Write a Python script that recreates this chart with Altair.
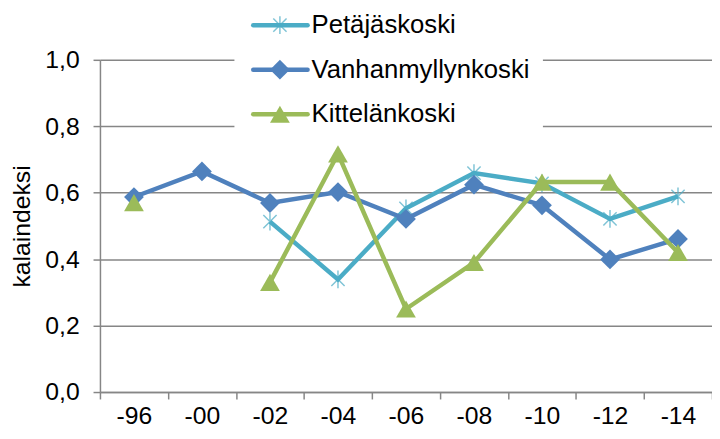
import altair as alt
import pandas as pd

years = ["-96", "-00", "-02", "-04", "-06", "-08", "-10", "-12", "-14"]
petajaskoski = [None, None, 0.513, 0.339, 0.553, 0.659, 0.628, 0.521, 0.589]
vanhanmyllynkoski = [0.587, 0.664, 0.569, 0.602, 0.521, 0.624, 0.562, 0.399, 0.461]
kittelankoski = [0.57, None, 0.33, 0.717, 0.25, 0.39, 0.632, 0.632, 0.42]

series_names = ["Petäjäskoski", "Vanhanmyllynkoski", "Kittelänkoski"]
series_values = [petajaskoski, vanhanmyllynkoski, kittelankoski]
colors = ["#4BACC6", "#4F81BD", "#9BBB59"]
y_ticks = [0.0, 0.2, 0.4, 0.6, 0.8, 1.0]

ASTER = "M0,-1L0,1M-0.75,-0.75L0.75,0.75M-0.75,0.75L0.75,-0.75"
FONT = "Liberation Sans"
GRAY = "#868686"


def series_df(name, vals):
    rows = []
    seg = 0
    for yr, v in zip(years, vals):
        if v is None:
            seg += 1
            continue
        rows.append({"year": yr, "value": v, "series": name, "seg": seg})
    return pd.DataFrame(rows)


x_enc = alt.X(
    "year:N",
    sort=years,
    bandPosition=0.5,
    scale=alt.Scale(type="band", domain=years, paddingInner=0, paddingOuter=0),
    axis=alt.Axis(
        title=None, tickBand="extent", labelAngle=0, labelFontSize=25,
        labelFont=FONT, labelColor="#000000", tickSize=7, labelPadding=5,
        domainColor=GRAY, tickColor=GRAY, domainWidth=1.5, tickWidth=1.5, grid=False,
    ),
)
y_enc = alt.Y(
    "value:Q",
    scale=alt.Scale(domain=[0, 1], nice=False, zero=True),
    axis=alt.Axis(
        values=y_ticks, labelExpr="replace(format(datum.value, '.1f'), '.', ',')",
        title="kalaindeksi", titleFont=FONT, titleFontSize=25, titleFontWeight="normal",
        titleColor="#000000", titlePadding=10, labelFontSize=25, labelFont=FONT,
        labelColor="#000000", tickSize=7, labelPadding=14, grid=True,
        gridColor=GRAY, gridWidth=1.5, domainColor=GRAY, domainWidth=1.5,
        tickColor=GRAY, tickWidth=1.5,
    ),
)

layers = []

# legend background (covers the gridlines)
layers.append(
    alt.Chart(alt.Data(values=[{}])).mark_rect(color="white").encode(
        x=alt.value(136), x2=alt.value(448), y=alt.value(-58), y2=alt.value(73)
    )
)

marker_props = [
    dict(shape=ASTER, filled=False, size=320, strokeWidth=1.5),
    dict(shape="diamond", filled=True, size=400, opacity=1),
    dict(shape="triangle-up", filled=True, size=400, opacity=1),
]

for name, vals, col, mp in zip(series_names, series_values, colors, marker_props):
    df = series_df(name, vals)
    base = alt.Chart(df)
    line = base.mark_line(color=col, strokeWidth=4.5).encode(
        x=x_enc, y=y_enc, detail="seg:N", order=alt.Order("year_idx:Q")
    ).transform_calculate(
        year_idx="indexof(" + str(years) + ", datum.year)"
    )
    pts = base.mark_point(color=col, **mp).encode(x=x_enc, y=y_enc)
    layers += [line, pts]

# legend
legend_rows = [-35, 10, 55]
for name, col, mp, ry in zip(series_names, colors, marker_props, legend_rows):
    one = alt.Data(values=[{"label": name}])
    layers.append(
        alt.Chart(one).mark_rule(color=col, strokeWidth=4.5, strokeCap="round").encode(
            x=alt.value(155), x2=alt.value(210), y=alt.value(ry)
        )
    )
    layers.append(
        alt.Chart(one).mark_point(color=col, **mp).encode(
            x=alt.value(182), y=alt.value(ry)
        )
    )
    layers.append(
        alt.Chart(one).mark_text(
            align="left", baseline="middle", fontSize=26, font=FONT, color="#000000"
        ).encode(x=alt.value(214), y=alt.value(ry), text="label:N")
    )

chart = alt.layer(*layers).properties(
    width=619,
    height=336,
    padding={"left": 93, "top": 50, "right": 0, "bottom": 37},
    autosize=alt.AutoSizeParams(type="none"),
    background="white",
).configure_view(stroke=None)

chart.save("out.html", embed_options={"renderer": "svg", "actions": False})
